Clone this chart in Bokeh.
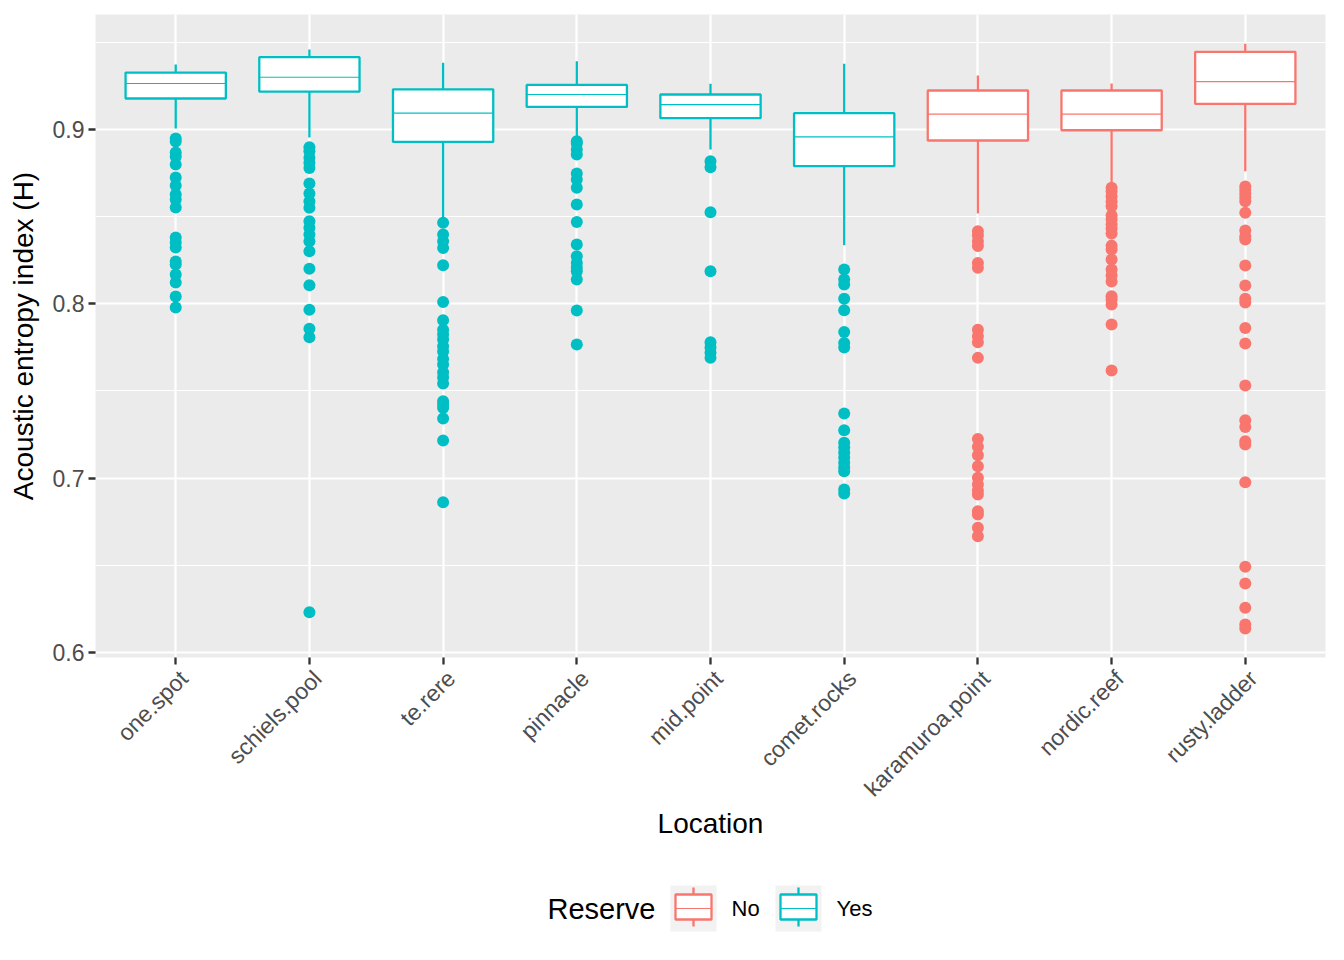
import math
from bokeh.plotting import figure
from bokeh.layouts import column
from bokeh.models import FixedTicker, ColumnDataSource, LinearAxis
from bokeh.core.properties import value
from bokeh.embed import file_html
from bokeh.resources import INLINE

# ---------------- data ----------------
locations = ["one.spot", "schiels.pool", "te.rere", "pinnacle", "mid.point",
             "comet.rocks", "karamuroa.point", "nordic.reef", "rusty.ladder"]
reserve = ["Yes", "Yes", "Yes", "Yes", "Yes", "Yes", "No", "No", "No"]

whisker_hi = [0.9373, 0.9459, 0.9383, 0.9392, 0.9262, 0.9377, 0.9310, 0.9264, 0.9492]
q3 = [0.9327, 0.9415, 0.9231, 0.9256, 0.9201, 0.9094, 0.9224, 0.9224, 0.9446]
median = [0.9264, 0.9300, 0.9094, 0.9201, 0.9143, 0.8958, 0.9088, 0.9088, 0.9275]
q1 = [0.9178, 0.9218, 0.8929, 0.9130, 0.9065, 0.8790, 0.8937, 0.8996, 0.9147]
whisker_lo = [0.9006, 0.8954, 0.8493, 0.8962, 0.8885, 0.8336, 0.8518, 0.8684, 0.8761]

outliers_one_spot = [0.8948, 0.8931, 0.8868, 0.8845, 0.8799, 0.8725, 0.8679, 0.8627,
                     0.8598, 0.8553, 0.8380, 0.8352, 0.8323, 0.8243, 0.8225, 0.8168,
                     0.8122, 0.8042, 0.7979]
outliers_schiels_pool = [0.8898, 0.8876, 0.8838, 0.8809, 0.8780, 0.8690, 0.8633, 0.8589,
                         0.8551, 0.8474, 0.8436, 0.8398, 0.8359, 0.8302, 0.8201, 0.8107,
                         0.7966, 0.7857, 0.7808, 0.6231]
outliers_te_rere = [0.8465, 0.8398, 0.8359, 0.8321, 0.8221, 0.8011, 0.7906, 0.7852,
                    0.7824, 0.7795, 0.7757, 0.7726, 0.7684, 0.7652, 0.7608, 0.7577,
                    0.7543, 0.7441, 0.7422, 0.7403, 0.7342, 0.7216, 0.6862]
outliers_pinnacle = [0.8933, 0.8920, 0.8885, 0.8857, 0.8748, 0.8713, 0.8666, 0.8570,
                     0.8470, 0.8340, 0.8273, 0.8235, 0.8208, 0.8187, 0.8139, 0.7962,
                     0.7767]
outliers_mid_point = [0.8818, 0.8784, 0.8526, 0.8187, 0.7780, 0.7749, 0.7719, 0.7690]
outliers_comet_rocks = [0.8197, 0.8139, 0.8111, 0.8029, 0.7963, 0.7839, 0.7776, 0.7749,
                        0.7371, 0.7275, 0.7203, 0.7176, 0.7147, 0.7118, 0.7088, 0.7061,
                        0.7040, 0.6935, 0.6912]
outliers_karamuroa_point = [0.8417, 0.8392, 0.8359, 0.8332, 0.8235, 0.8207, 0.7852,
                            0.7814, 0.7780, 0.7690, 0.7225, 0.7180, 0.7131, 0.7068,
                            0.7002, 0.6963, 0.6929, 0.6906, 0.6810, 0.6791, 0.6715,
                            0.6667]
outliers_nordic_reef = [0.8666, 0.8644, 0.8616, 0.8587, 0.8560, 0.8507, 0.8484, 0.8455,
                        0.8432, 0.8403, 0.8334, 0.8312, 0.8254, 0.8197, 0.8162, 0.8128,
                        0.8044, 0.8025, 0.7996, 0.7881, 0.7617]
outliers_rusty_ladder = [0.8673, 0.8653, 0.8633, 0.8610, 0.8589, 0.8522, 0.8421, 0.8386,
                         0.8369, 0.8220, 0.8105, 0.8029, 0.8007, 0.7862, 0.7772, 0.7531,
                         0.7332, 0.7294, 0.7212, 0.7193, 0.6976, 0.6491, 0.6395, 0.6256,
                         0.6160, 0.6137]
outliers = [outliers_one_spot, outliers_schiels_pool, outliers_te_rere, outliers_pinnacle,
            outliers_mid_point, outliers_comet_rocks, outliers_karamuroa_point,
            outliers_nordic_reef, outliers_rusty_ladder]

y_ticks = [0.6, 0.7, 0.8, 0.9]
y_minor = [0.65, 0.75, 0.85, 0.95]
legend_levels = ["No", "Yes"]

# ---------------- style ----------------
COLORS = {"No": "#F8766D", "Yes": "#00BFC4"}
FONT = "Liberation Sans"
PANEL = "#EBEBEB"
BOX_W = 0.75
LABEL_SHIFT = 0.06   # ggplot-style hjust=1/vjust=1 placement of rotated labels

xpos = [i + 1 for i in range(len(locations))]
cols = [COLORS[r] for r in reserve]

src = ColumnDataSource(dict(
    x=xpos, x0=[x - BOX_W / 2 for x in xpos], x1=[x + BOX_W / 2 for x in xpos],
    hi=whisker_hi, q3=q3, med=median, q1=q1, lo=whisker_lo, color=cols))

ox, oy, oc = [], [], []
for x, vals, r in zip(xpos, outliers, reserve):
    for v in vals:
        ox.append(x)
        oy.append(v)
        oc.append(COLORS[r])
osrc = ColumnDataSource(dict(x=ox, y=oy, color=oc))

FRAME_W, FRAME_H = 1230, 643
BORDER_L, BORDER_R, BORDER_T, BORDER_B = 95, 10, 14, 210
p = figure(frame_width=FRAME_W, frame_height=FRAME_H, output_backend="svg",
           toolbar_location=None,
           x_range=(0.4, len(locations) + 0.6), y_range=(0.5971, 0.9660),
           min_border_left=BORDER_L, min_border_right=BORDER_R,
           min_border_top=BORDER_T, min_border_bottom=BORDER_B)
p.background_fill_color = PANEL
p.border_fill_color = "white"
p.outline_line_color = None

# grid
p.xgrid.ticker = FixedTicker(ticks=xpos)
p.xgrid.grid_line_color = "white"
p.xgrid.grid_line_width = 2.2
p.ygrid.ticker = FixedTicker(ticks=y_ticks, minor_ticks=y_minor)
p.ygrid.grid_line_color = "white"
p.ygrid.grid_line_width = 2.2
p.ygrid.minor_grid_line_color = "white"
p.ygrid.minor_grid_line_width = 1.1

# glyphs
p.segment(x0="x", y0="q3", x1="x", y1="hi", source=src, line_color="color", line_width=2.3)
p.segment(x0="x", y0="q1", x1="x", y1="lo", source=src, line_color="color", line_width=2.3)
p.vbar(x="x", width=BOX_W, top="q3", bottom="q1", source=src, fill_color="white",
       line_color="color", line_width=2.3)
p.segment(x0="x0", y0="med", x1="x1", y1="med", source=src, line_color="color",
          line_width=1.2)
p.scatter(x="x", y="y", source=osrc, size=12, fill_color="color", line_color="color",
          line_width=0)

# x axis: tick marks only
p.xaxis.ticker = FixedTicker(ticks=xpos)
p.xaxis.major_label_overrides = {x: "" for x in xpos}
p.xaxis.major_label_standoff = 0
p.xaxis.major_label_text_font_size = "1px"
# x axis: rotated category labels (second axis, below the tick axis)
label_ticks = [x + LABEL_SHIFT for x in xpos]
lab_axis = LinearAxis(ticker=FixedTicker(ticks=label_ticks),
                      major_label_overrides={t: n for t, n in zip(label_ticks, locations)},
                      major_label_orientation=math.pi / 4,
                      axis_label="Location")
p.add_layout(lab_axis, "below")

p.yaxis.ticker = FixedTicker(ticks=y_ticks)
p.yaxis.axis_label = "Acoustic entropy index (H)"
for ax in (p.xaxis[0], lab_axis, p.yaxis[0]):
    ax.axis_line_color = None
    ax.major_tick_line_color = "#333333"
    ax.major_tick_line_width = 2.3
    ax.major_tick_out = 7
    ax.major_tick_in = 0
    ax.minor_tick_line_color = None
    ax.major_label_text_font = FONT
    ax.major_label_text_color = "#4D4D4D"
    ax.axis_label_text_font = FONT
    ax.axis_label_text_font_size = "28px"
    ax.axis_label_text_font_style = "normal"
    ax.axis_label_text_color = "black"
lab_axis.major_tick_line_color = None
lab_axis.major_tick_out = 0
lab_axis.major_label_text_font_size = "23px"
lab_axis.major_label_standoff = 10
lab_axis.axis_label_standoff = -5
p.yaxis.major_label_text_font_size = "23px"
p.yaxis.major_label_standoff = 4
p.yaxis.axis_label_standoff = 11

# ---------------- legend (drawn in its own small panel) ----------------
LEG_H = 76
lg = figure(frame_width=FRAME_W, frame_height=LEG_H, output_backend="svg",
            toolbar_location=None, x_range=(BORDER_L, BORDER_L + FRAME_W), y_range=(0, LEG_H),
            min_border_left=BORDER_L, min_border_right=BORDER_R, min_border_top=0,
            min_border_bottom=0)
lg.axis.visible = False
lg.grid.visible = False
lg.outline_line_color = None
lg.background_fill_color = "white"
lg.border_fill_color = "white"

cy = 35
title_x = 547
key_x = [670, 775]
label_x = [731, 836]
lg.text(x=[title_x], y=[cy], text=["Reserve"], text_font=value(FONT),
        text_font_size="29px", text_baseline="middle", text_align="left", text_color="black")
for kx, lx, lev in zip(key_x, label_x, legend_levels):
    c = COLORS[lev]
    lg.quad(left=[kx], right=[kx + 46], bottom=[cy - 23], top=[cy + 23],
            fill_color="#F2F2F2", line_color=None)
    lg.segment(x0=[kx + 23], y0=[cy - 18], x1=[kx + 23], y1=[cy + 21], line_color=c,
               line_width=2.3)
    lg.quad(left=[kx + 5], right=[kx + 41], bottom=[cy - 11], top=[cy + 14],
            fill_color="white", line_color=c, line_width=2.3)
    lg.segment(x0=[kx + 5], y0=[cy], x1=[kx + 41], y1=[cy], line_color=c, line_width=1.2)
    lg.text(x=[lx], y=[cy], text=[lev], text_font=value(FONT), text_font_size="22px",
            text_baseline="middle", text_align="left", text_color="black")

layout = column(p, lg, spacing=0)
open("out.html", "w").write(file_html(layout, INLINE))
